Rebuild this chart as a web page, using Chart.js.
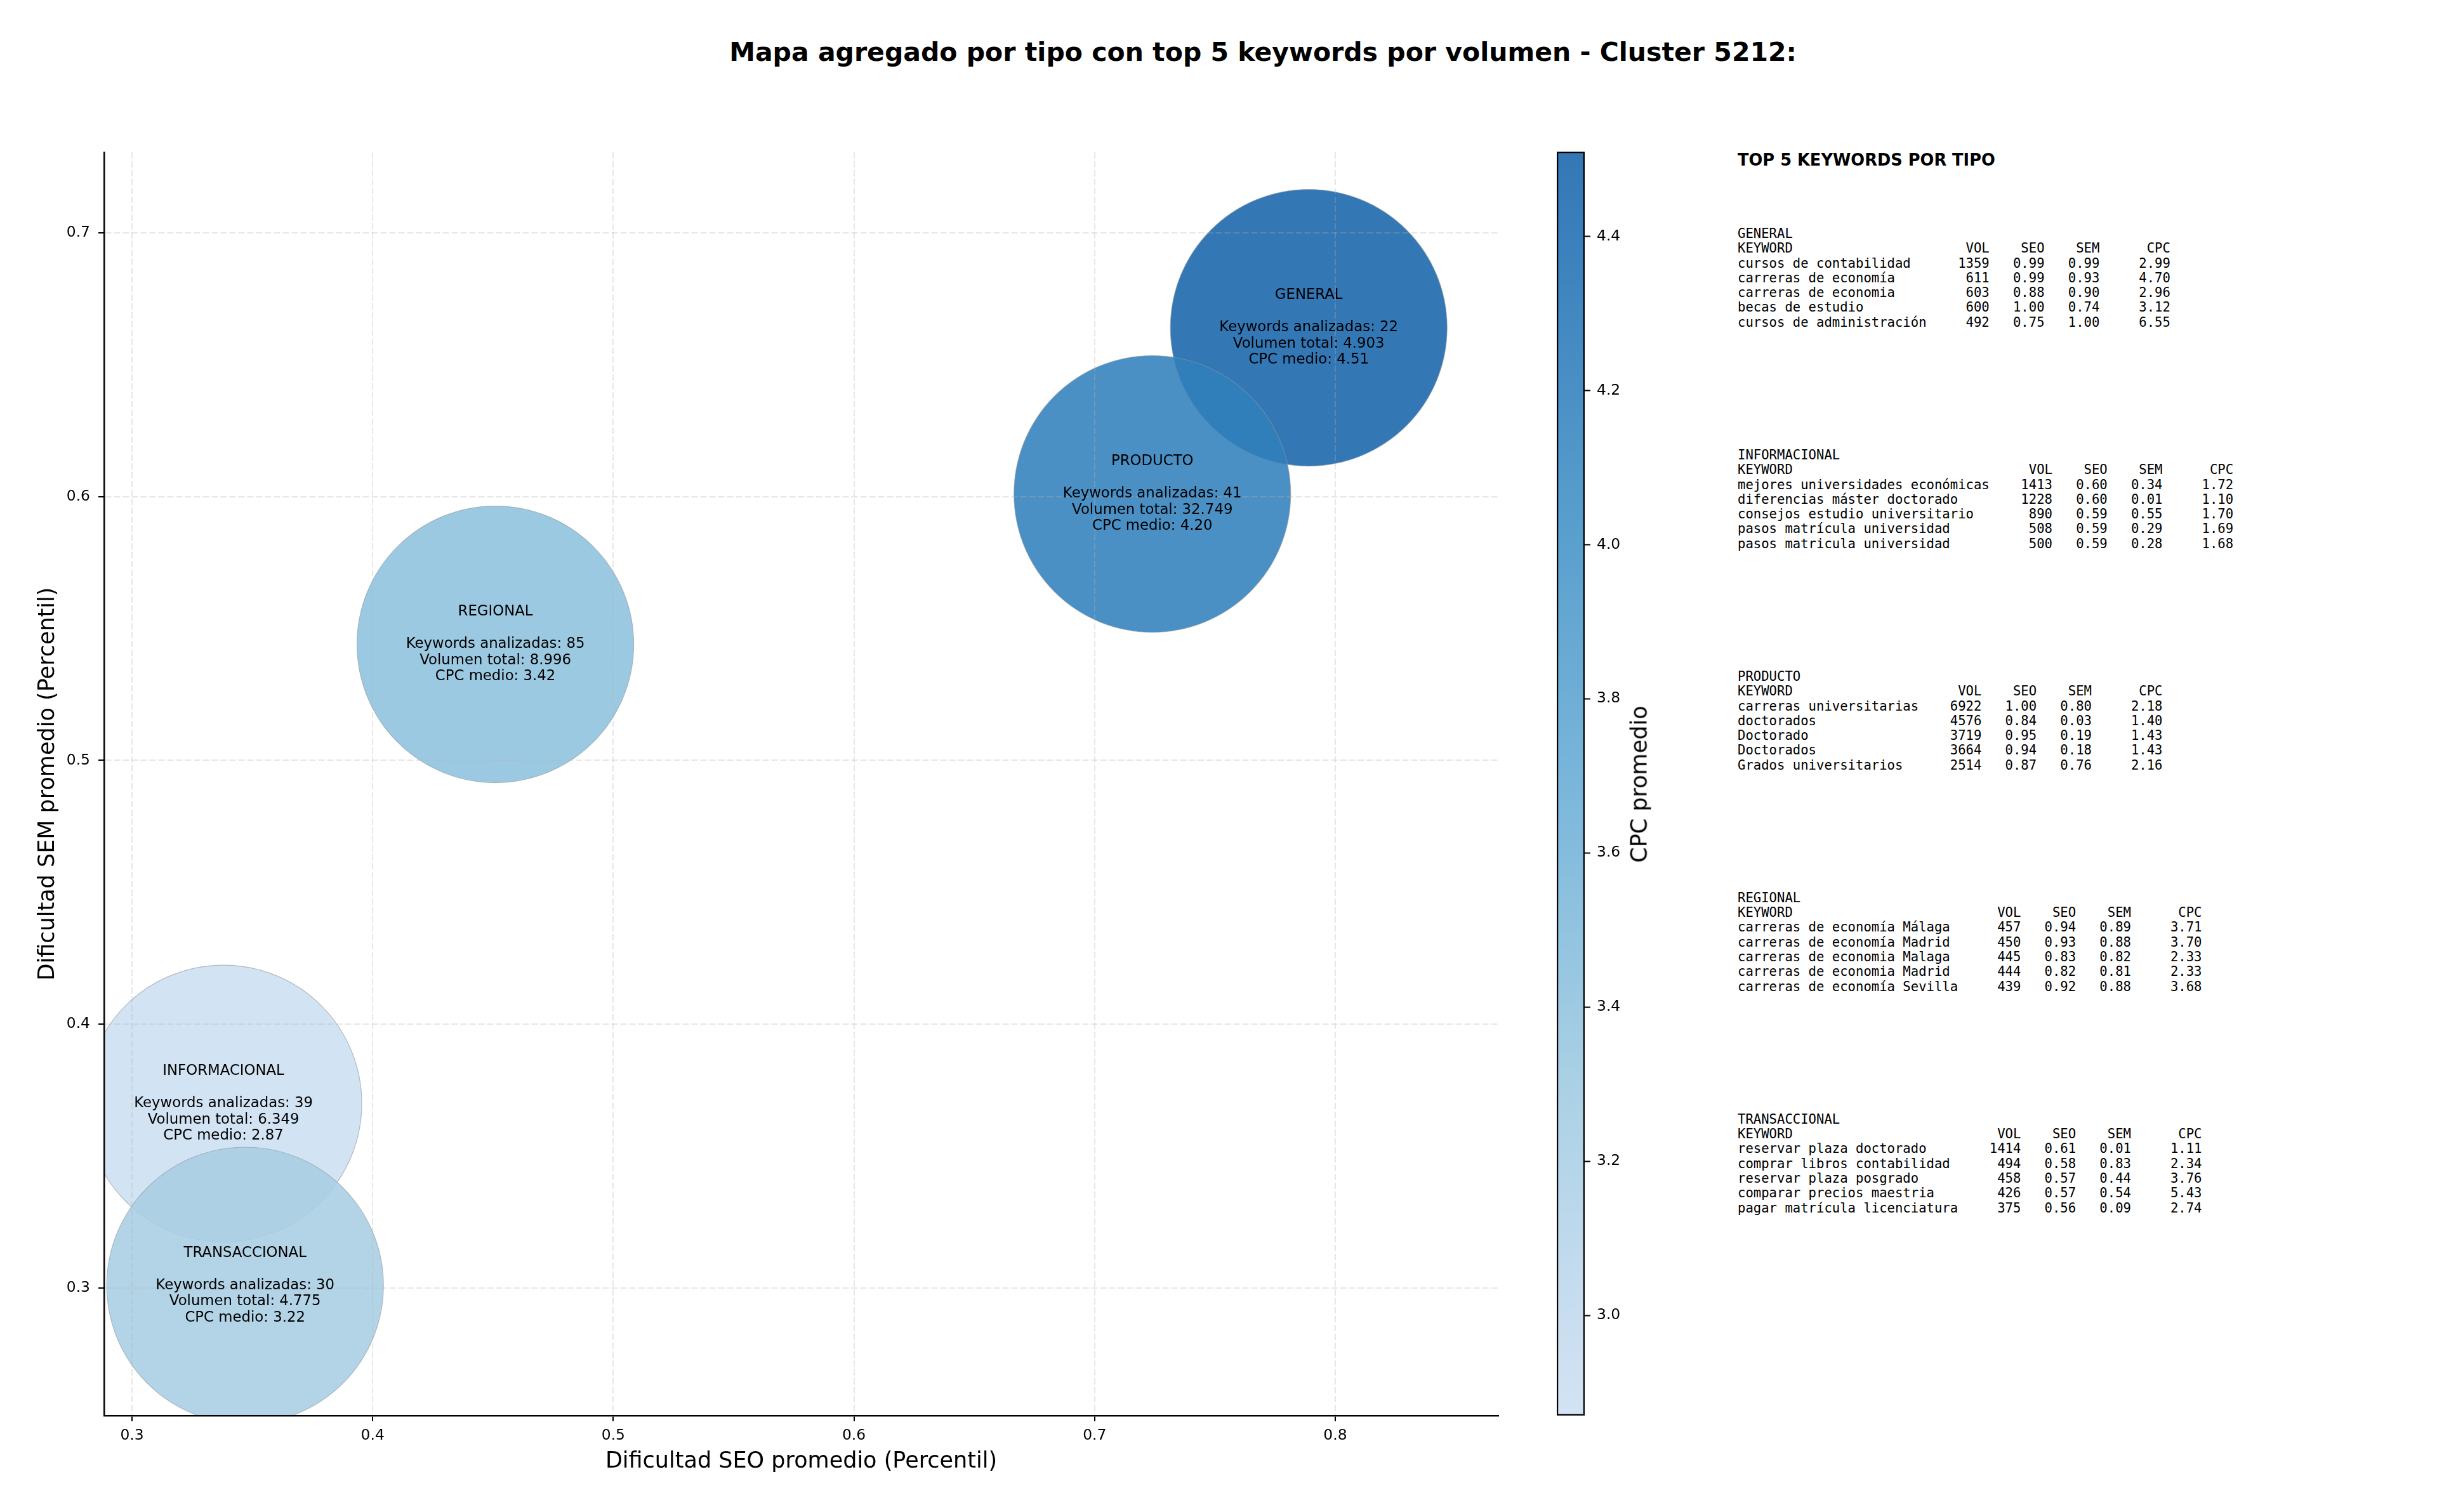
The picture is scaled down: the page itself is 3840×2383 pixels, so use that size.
<!DOCTYPE html>
<html>
<head>
<meta charset="utf-8">
<script src="https://cdn.jsdelivr.net/npm/chart.js@4.4.0/dist/chart.umd.min.js"></script>
<style>
  body { margin: 0; width: 3840px; height: 2383px; background: #fff; position: relative; overflow: hidden; font-family: 'DejaVu Sans', sans-serif; }
  #mainChart { position: absolute; left: 0; top: 0; }
  #cbarChart { position: absolute; left: 2453px; top: 0; }
  #title { position: absolute; left: 0; width: 3980px; top: 62px; text-align: center; font: bold 41px/41px 'DejaVu Sans'; white-space: nowrap; }
  #cbarLabel { position: absolute; left: 2583px; top: 1236px; transform: translate(-50%, -50%) rotate(-90deg); font: 35px/35px 'DejaVu Sans'; white-space: nowrap; }
  #tableTitle { position: absolute; left: 2738px; top: 240px; font: bold 25.7px/25.7px 'DejaVu Sans'; white-space: nowrap; }
  #tableText { position: absolute; left: 2738px; top: 357px; margin: 0; font: 20.6px/23.27px 'DejaVu Sans Mono'; }
</style>
</head>
<body>
<div id="title">Mapa agregado por tipo con top 5 keywords por volumen - Cluster 5212:</div>
<canvas id="mainChart" width="2400" height="2383"></canvas>
<canvas id="cbarChart" width="200" height="2383"></canvas>
<div id="cbarLabel">CPC promedio</div>
<div id="tableTitle">TOP 5 KEYWORDS POR TIPO</div>
<pre id="tableText"></pre>
<script>
// datos agregados por tipo
const types = ['GENERAL', 'INFORMACIONAL', 'PRODUCTO', 'REGIONAL', 'TRANSACCIONAL'];
const seoAvg = [0.789, 0.338, 0.724, 0.451, 0.347];
const semAvg = [0.664, 0.370, 0.601, 0.544, 0.301];
const keywordCount = [22, 39, 41, 85, 30];
const totalVolume = [4903, 6349, 32749, 8996, 4775];
const cpcAvg = [4.51, 2.87, 4.20, 3.42, 3.22];

// top 5 keywords: [keyword, vol, seo, sem, cpc]
const topGeneral = [
  ['cursos de contabilidad', 1359, 0.99, 0.99, 2.99],
  ['carreras de economía', 611, 0.99, 0.93, 4.70],
  ['carreras de economia', 603, 0.88, 0.90, 2.96],
  ['becas de estudio', 600, 1.00, 0.74, 3.12],
  ['cursos de administración', 492, 0.75, 1.00, 6.55]
];
const topInformacional = [
  ['mejores universidades económicas', 1413, 0.60, 0.34, 1.72],
  ['diferencias máster doctorado', 1228, 0.60, 0.01, 1.10],
  ['consejos estudio universitario', 890, 0.59, 0.55, 1.70],
  ['pasos matrícula universidad', 508, 0.59, 0.29, 1.69],
  ['pasos matricula universidad', 500, 0.59, 0.28, 1.68]
];
const topProducto = [
  ['carreras universitarias', 6922, 1.00, 0.80, 2.18],
  ['doctorados', 4576, 0.84, 0.03, 1.40],
  ['Doctorado', 3719, 0.95, 0.19, 1.43],
  ['Doctorados', 3664, 0.94, 0.18, 1.43],
  ['Grados universitarios', 2514, 0.87, 0.76, 2.16]
];
const topRegional = [
  ['carreras de economía Málaga', 457, 0.94, 0.89, 3.71],
  ['carreras de economía Madrid', 450, 0.93, 0.88, 3.70],
  ['carreras de economia Malaga', 445, 0.83, 0.82, 2.33],
  ['carreras de economia Madrid', 444, 0.82, 0.81, 2.33],
  ['carreras de economía Sevilla', 439, 0.92, 0.88, 3.68]
];
const topTransaccional = [
  ['reservar plaza doctorado', 1414, 0.61, 0.01, 1.11],
  ['comprar libros contabilidad', 494, 0.58, 0.83, 2.34],
  ['reservar plaza posgrado', 458, 0.57, 0.44, 3.76],
  ['comparar precios maestria', 426, 0.57, 0.54, 5.43],
  ['pagar matrícula licenciatura', 375, 0.56, 0.09, 2.74]
];

// limites de ejes
const xMin = 0.2884, xMax = 0.8678;
const yMin = 0.2517, yMax = 0.7305;

const cpcMin = Math.min(...cpcAvg);
const cpcMax = Math.max(...cpcAvg);

// paleta Blues (tramo recortado)
const bluesStops = [
  [0, [247, 251, 255]], [0.125, [222, 235, 247]], [0.25, [198, 219, 239]],
  [0.375, [158, 202, 225]], [0.5, [107, 174, 214]], [0.625, [66, 146, 198]],
  [0.75, [33, 113, 181]], [0.875, [8, 81, 156]], [1, [8, 48, 107]]
];
const ALPHA = 0.88;

function cmapColor(v, a) {
  const t = (v - cpcMin) / (cpcMax - cpcMin);
  const p = 0.22 + 0.58 * Math.min(1, Math.max(0, t));
  let k = 0;
  while (k < bluesStops.length - 2 && p > bluesStops[k + 1][0]) k++;
  const [p0, c0] = bluesStops[k];
  const [p1, c1] = bluesStops[k + 1];
  const f = (p - p0) / (p1 - p0);
  const c = c0.map((ch, i) => Math.round(ch + (c1[i] - ch) * f));
  return `rgba(${c[0]}, ${c[1]}, ${c[2]}, ${a})`;
}

function fmtThousands(n) {
  return String(n).replace(/\B(?=(\d{3})+(?!\d))/g, '.');
}

// tabla de texto
function tableBlock(name, rows) {
  const w = Math.max(7, ...rows.map(r => r[0].length));
  const lines = [name];
  lines.push('KEYWORD'.padEnd(w) + 'VOL'.padStart(8) + 'SEO'.padStart(7) + 'SEM'.padStart(7) + 'CPC'.padStart(9));
  rows.forEach(r => {
    lines.push(r[0].padEnd(w) + String(r[1]).padStart(8) + r[2].toFixed(2).padStart(7) +
      r[3].toFixed(2).padStart(7) + r[4].toFixed(2).padStart(9));
  });
  return lines.join('\n');
}
const blocks = [
  tableBlock('GENERAL', topGeneral),
  tableBlock('INFORMACIONAL', topInformacional),
  tableBlock('PRODUCTO', topProducto),
  tableBlock('REGIONAL', topRegional),
  tableBlock('TRANSACCIONAL', topTransaccional)
];
document.getElementById('tableText').textContent = blocks.join('\n'.repeat(9));

Chart.defaults.font.family = "'DejaVu Sans'";
Chart.defaults.color = '#000';

// etiquetas dentro de cada burbuja
const bubbleLabels = {
  id: 'bubbleLabels',
  afterDraw(chart) {
    const { ctx, scales: { x, y } } = chart;
    ctx.save();
    ctx.font = "22.8px 'DejaVu Sans'";
    ctx.fillStyle = '#000';
    ctx.textAlign = 'center';
    ctx.textBaseline = 'middle';
    types.forEach((t, i) => {
      const lines = [
        t, '',
        'Keywords analizadas: ' + keywordCount[i],
        'Volumen total: ' + fmtThousands(totalVolume[i]),
        'CPC medio: ' + cpcAvg[i].toFixed(2)
      ];
      const cx = x.getPixelForValue(seoAvg[i]);
      const cy = y.getPixelForValue(semAvg[i]);
      lines.forEach((l, k) => ctx.fillText(l, cx, cy + (k - 2) * 25.5));
    });
    ctx.restore();
  }
};

const gridOpts = {
  color: 'rgba(176, 176, 176, 0.3)',
  lineWidth: 2,
  tickLength: 9,
  tickColor: '#000',
  tickWidth: 2,
  z: 1
};
const borderOpts = { color: '#000', width: 2.5, dash: [10, 4], z: 1 };

new Chart(document.getElementById('mainChart'), {
  type: 'bubble',
  data: {
    datasets: [{
      data: types.map((t, i) => ({ x: seoAvg[i], y: semAvg[i] })),
      backgroundColor: cpcAvg.map(v => cmapColor(v, ALPHA)),
      borderColor: 'rgba(140, 150, 160, 0.6)',
      borderWidth: 1.2,
      radius: 218,
      clip: 0
    }]
  },
  options: {
    responsive: false,
    animation: false,
    events: [],
    layout: { autoPadding: false, padding: { top: 240, right: 39, bottom: 0, left: 0 } },
    plugins: { legend: { display: false }, tooltip: { enabled: false } },
    scales: {
      x: {
        type: 'linear',
        min: xMin,
        max: xMax,
        afterFit: s => { s.height = 152; },
        ticks: { stepSize: 0.1, includeBounds: false, padding: 9, font: { size: 23.4 }, callback: v => v.toFixed(1) },
        grid: gridOpts,
        border: borderOpts,
        title: { display: true, text: 'Dificultad SEO promedio (Percentil)', font: { size: 35 }, padding: { top: 0, bottom: 58 } }
      },
      y: {
        type: 'linear',
        min: yMin,
        max: yMax,
        afterFit: s => { s.width = 164; },
        ticks: { stepSize: 0.1, includeBounds: false, padding: 13, font: { size: 23.4 }, callback: v => v.toFixed(1) },
        grid: gridOpts,
        border: borderOpts,
        title: { display: true, text: 'Dificultad SEM promedio (Percentil)', font: { size: 35 }, padding: { top: 55, bottom: 0 } }
      }
    }
  },
  plugins: [bubbleLabels]
});

// barra de color
function cbarGradient(chart) {
  const ys = chart.scales.y;
  if (!chart.chartArea || !ys) return cmapColor(cpcMin, ALPHA);
  const g = chart.ctx.createLinearGradient(0, ys.getPixelForValue(cpcMin), 0, ys.getPixelForValue(cpcMax));
  for (let k = 0; k <= 20; k++) {
    g.addColorStop(k / 20, cmapColor(cpcMin + (cpcMax - cpcMin) * k / 20, ALPHA));
  }
  return g;
}

new Chart(document.getElementById('cbarChart'), {
  type: 'bar',
  data: {
    labels: ['CPC'],
    datasets: [{
      data: [[cpcMin, cpcMax]],
      backgroundColor: ctx => cbarGradient(ctx.chart),
      borderColor: '#000',
      borderWidth: 2.5,
      borderSkipped: false,
      barPercentage: 1,
      categoryPercentage: 1
    }]
  },
  options: {
    responsive: false,
    animation: false,
    events: [],
    layout: { autoPadding: false, padding: { top: 239, right: 0, bottom: 152, left: 0 } },
    plugins: { legend: { display: false }, tooltip: { enabled: false } },
    scales: {
      x: { display: false },
      y: {
        position: 'right',
        min: cpcMin,
        max: cpcMax,
        afterFit: s => { s.width = 156; },
        ticks: { stepSize: 0.2, includeBounds: false, padding: 10, font: { size: 23.4 }, callback: v => v.toFixed(1) },
        grid: { drawOnChartArea: false, tickLength: 9, tickColor: '#000', tickWidth: 2 },
        border: { display: false }
      }
    }
  }
});
</script>
</body>
</html>
